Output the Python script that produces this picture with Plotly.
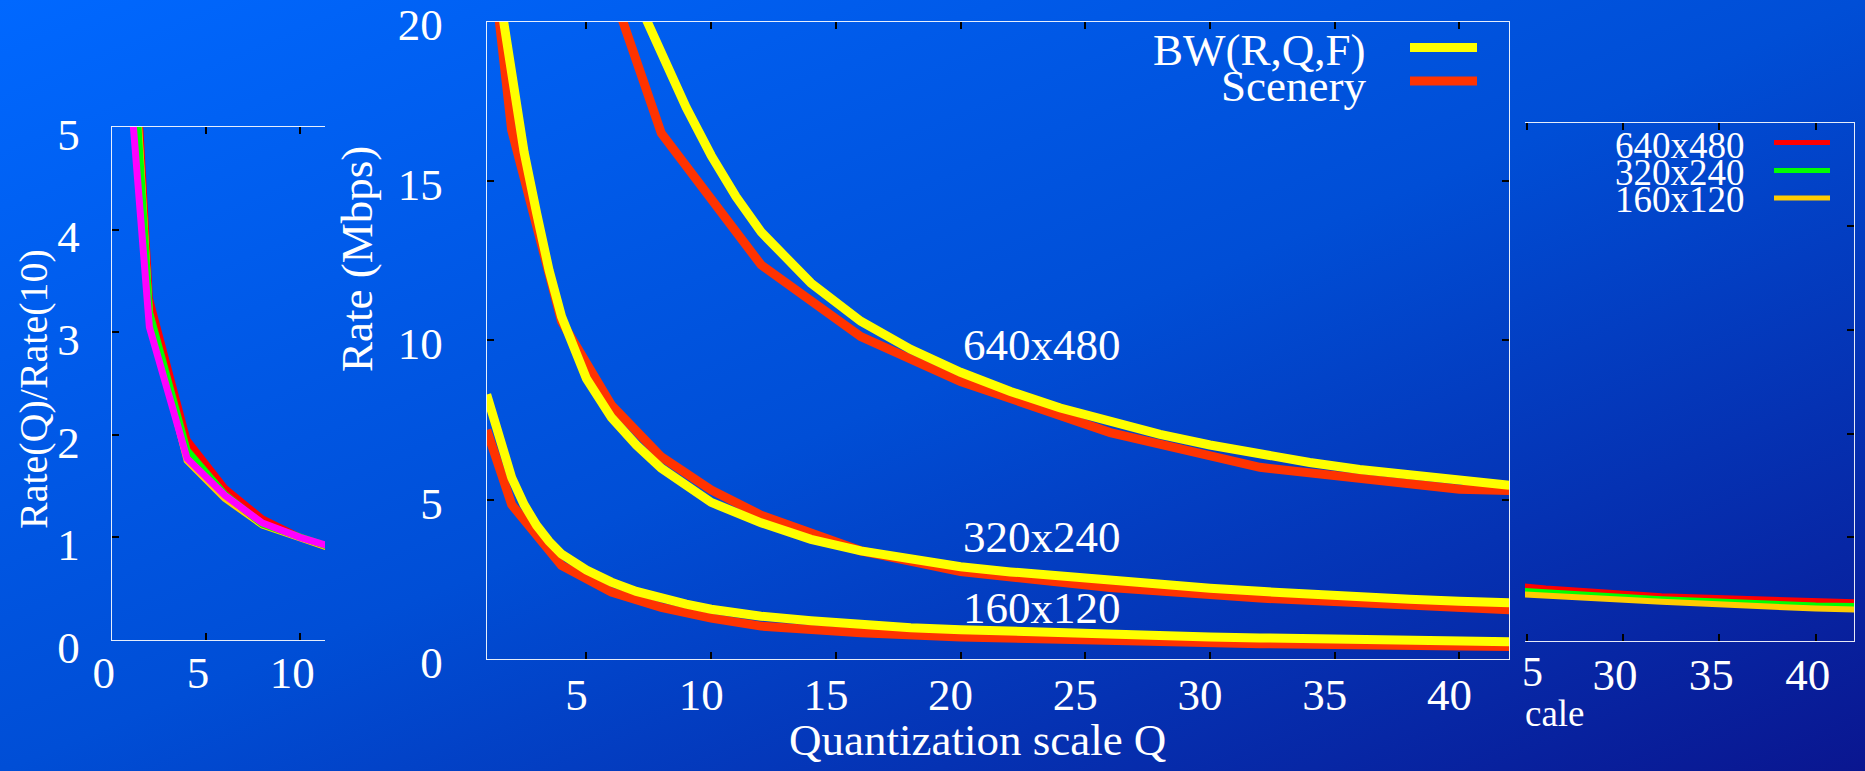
import base64
import plotly.graph_objects as go

W, H = 1865, 771
FONT = "Liberation Serif, Times New Roman, serif"

# ---------------- data ----------------
# main panel: model BW(R,Q,F) (smooth, yellow)
q_bw_640 = [7, 7.5, 8, 9, 10, 11, 12, 14, 16, 18, 20, 22, 24, 26, 28, 30, 32, 34, 36, 38, 40, 42]
bw_640 = [20.75, 19.9, 19.0, 17.3, 15.8, 14.5, 13.4, 11.8, 10.6, 9.72, 9.0, 8.4, 7.88, 7.45,
          7.05, 6.72, 6.42, 6.17, 5.95, 5.77, 5.6, 5.46]
q_bw_320 = [1.5, 2, 2.5, 3, 3.5, 4, 5, 6, 7, 8, 9, 10, 12, 14, 16, 18, 20, 22, 24, 26, 28, 30,
            32, 34, 36, 38, 40, 42]
bw_320 = [20.9, 18.3, 15.9, 14.0, 12.2, 10.75, 8.8, 7.58, 6.72, 5.99, 5.42, 4.92, 4.28, 3.76,
          3.40, 3.12, 2.9, 2.74, 2.6, 2.47, 2.34, 2.23, 2.13, 2.03, 1.95, 1.88, 1.82, 1.77]
q_bw_160 = [1, 1.5, 2, 2.5, 3, 3.5, 4, 5, 6, 7, 8, 9, 10, 12, 14, 16, 18, 20, 22, 24, 26, 28,
            30, 32, 34, 36, 38, 40, 42]
bw_160 = [8.3, 6.9, 5.7, 4.85, 4.2, 3.7, 3.3, 2.8, 2.42, 2.13, 1.91, 1.73, 1.57, 1.35, 1.21,
          1.08, 0.99, 0.93, 0.87, 0.82, 0.77, 0.73, 0.70, 0.67, 0.64, 0.61, 0.59, 0.57, 0.55]

# main panel: measured Scenery (orange-red)
q_sc_640 = [4, 6, 8, 10, 12, 16, 20, 26, 32, 40, 42]
sc_640 = [28.0, 21.05, 16.5, 14.43, 12.37, 10.12, 8.71, 7.11, 6.02, 5.33, 5.29]
q_sc = [1, 2, 4, 6, 8, 10, 12, 16, 20, 26, 32, 40, 42]
sc_320 = [23.5, 16.6, 10.6, 7.97, 6.35, 5.31, 4.52, 3.40, 2.75, 2.25, 1.92, 1.60, 1.55]
sc_160 = [7.19, 4.85, 2.94, 2.11, 1.63, 1.29, 1.04, 0.83, 0.70, 0.58, 0.49, 0.42, 0.40]

# left panel: Rate(Q)/Rate(10)
q_left = [1, 2, 4, 6, 8, 10, 12]
left_red = [6.6, 3.33, 1.95, 1.48, 1.18, 1.0, 0.87]
left_gold = [6.4, 3.18, 1.75, 1.38, 1.12, 1.0, 0.87]
left_green = [6.2, 3.2, 1.85, 1.42, 1.13, 1.0, 0.88]
left_magenta = [5.35, 3.05, 1.77, 1.41, 1.14, 1.0, 0.89]

# right panel: normalised rates
q_right = [24, 26, 32, 40, 42]
right_640 = [0.54, 0.505, 0.43, 0.375, 0.37]
right_320 = [0.49, 0.465, 0.40, 0.34, 0.335]
right_160 = [0.455, 0.435, 0.375, 0.31, 0.30]

main_xticks = [5, 10, 15, 20, 25, 30, 35, 40]
main_yticks = [0, 5, 10, 15, 20]
res_labels = ["640x480", "320x240", "160x120"]

# ---------------- helpers ----------------
def px(x):
    return x / W

def py(y):
    return 1 - y / H

YELLOW = "#ffff00"
SCEN = "#ff3300"
RED = "#ff0000"
GREEN = "#00ff00"
GOLD = "#ffcc00"
MAGENTA = "#ff00ff"

fig = go.Figure()

# main panel traces (red first, yellow on top)
for q, v in [(q_sc_640, sc_640), (q_sc, sc_320), (q_sc, sc_160)]:
    fig.add_trace(go.Scatter(x=q, y=v, mode="lines", line=dict(color=SCEN, width=9),
                             xaxis="x", yaxis="y", showlegend=False, hoverinfo="skip"))
for q, v in [(q_bw_640, bw_640), (q_bw_320, bw_320), (q_bw_160, bw_160)]:
    fig.add_trace(go.Scatter(x=q, y=v, mode="lines", line=dict(color=YELLOW, width=9),
                             xaxis="x", yaxis="y", showlegend=False, hoverinfo="skip"))

# left panel traces
for v, c in [(left_red, RED), (left_gold, GOLD), (left_green, GREEN), (left_magenta, MAGENTA)]:
    fig.add_trace(go.Scatter(x=q_left, y=v, mode="lines", line=dict(color=c, width=7),
                             xaxis="x2", yaxis="y2", showlegend=False, hoverinfo="skip"))

# right panel traces
for v, c in [(right_640, RED), (right_320, GREEN), (right_160, GOLD)]:
    fig.add_trace(go.Scatter(x=q_right, y=v, mode="lines", line=dict(color=c, width=6),
                             xaxis="x3", yaxis="y3", showlegend=False, hoverinfo="skip"))

LINEC = "rgba(255,255,255,0.9)"
common = dict(showgrid=False, zeroline=False, showline=True, linecolor=LINEC, linewidth=1,
              ticks="inside", ticklen=7, tickwidth=1.5, tickcolor="#000000",
              automargin=False, ticklabeloverflow="allow")
TICKFONT = dict(family=FONT, size=45, color="white")

# ---------------- background gradient ----------------
svg = (
    f"<svg xmlns='http://www.w3.org/2000/svg' width='{W}' height='{H}' viewBox='0 0 {W} {H}' "
    "preserveAspectRatio='none'><defs><linearGradient id='g' x1='0' y1='0' x2='1' y2='1'>"
    "<stop offset='0' stop-color='#0068ff'/>"
    "<stop offset='0.5' stop-color='#004ed6'/>"
    "<stop offset='1' stop-color='#0a1690'/>"
    f"</linearGradient></defs><rect width='{W}' height='{H}' fill='url(#g)'/></svg>"
)
src = "data:image/svg+xml;base64," + base64.b64encode(svg.encode()).decode()

annotations = []

def ann(text, x, y, size, xanchor="center", angle=0):
    annotations.append(dict(text=text, x=px(x), y=py(y), xref="paper", yref="paper",
                            showarrow=False, xanchor=xanchor, yanchor="middle",
                            textangle=angle, font=dict(family=FONT, size=size, color="white")))

ann("Rate (Mbps)", 357, 259, 45, angle=-90)
ann("Quantization scale Q", 977, 740, 45)
ann("Rate(Q)/Rate(10)", 33, 389, 40, angle=-90)
ann(res_labels[0], 961, 345, 45, xanchor="left")
ann(res_labels[1], 961, 537, 45, xanchor="left")
ann(res_labels[2], 961, 608, 45, xanchor="left")
ann("BW(R,Q,F)", 1368, 50, 45, xanchor="right")
ann("Scenery", 1368, 86, 45, xanchor="right")
ann(res_labels[0], 1747, 145, 37, xanchor="right")
ann(res_labels[1], 1747, 173, 37, xanchor="right")
ann(res_labels[2], 1747, 200, 37, xanchor="right")
ann("5", 1532, 672, 42)
ann("cale", 1523, 713, 37, xanchor="left")

shapes = []
def seg(x0, x1, y, color, width):
    shapes.append(dict(type="line", xref="paper", yref="paper", x0=px(x0), x1=px(x1),
                       y0=py(y), y1=py(y), line=dict(color=color, width=width)))

seg(1410, 1477, 47.5, YELLOW, 9)
seg(1410, 1477, 81, SCEN, 9)
seg(1774, 1830, 142.5, RED, 5)
seg(1774, 1830, 170.5, GREEN, 5)
seg(1774, 1830, 198, GOLD, 5)

fig.update_layout(
    template="none",
    width=W, height=H,
    margin=dict(l=0, r=0, t=0, b=0, pad=0, autoexpand=False),
    paper_bgcolor="#0050d8",
    plot_bgcolor="rgba(0,0,0,0)",
    images=[dict(source=src, xref="paper", yref="paper", x=0, y=1, sizex=1, sizey=1,
                 xanchor="left", yanchor="top", sizing="stretch", layer="below")],
    annotations=annotations,
    shapes=shapes,
    xaxis=dict(domain=[px(486.7), px(1509.3)], range=[1, 42], tickvals=main_xticks,
               mirror="ticks", anchor="y", tickfont=TICKFONT,
               ticklabelshift=-10, ticklabelstandoff=-4, **common),
    yaxis=dict(domain=[py(659.3), py(21.5)], range=[-0.0005, 20.0005], tickvals=main_yticks,
               mirror="ticks", anchor="x", tickfont=TICKFONT,
               ticklabelshift=3, ticklabelstandoff=34, **common),
    xaxis2=dict(domain=[px(111.7), px(325)], range=[0, 11.32], tickvals=[0, 5, 10],
                mirror="ticks", anchor="y2", tickfont=TICKFONT,
                ticklabelshift=-8, ticklabelstandoff=-7, **common),
    yaxis2=dict(domain=[py(640), py(127)], range=[-0.0002, 5.0002], tickvals=[0, 1, 2, 3, 4, 5],
                anchor="x2", tickfont=TICKFONT,
                ticklabelshift=7, ticklabelstandoff=22, **common),
    xaxis3=dict(domain=[px(1525), px(1854.3)], range=[24.92, 42], tickvals=[25, 30, 35, 40],
                ticktext=["", "30", "35", "40"], mirror="ticks", anchor="y3", tickfont=TICKFONT,
                ticklabelshift=-8, ticklabelstandoff=-6, **common),
    yaxis3=dict(domain=[py(640.7), py(122.7)], range=[0, 5], tickvals=[0, 1, 2, 3, 4, 5],
                side="right", anchor="x3", showticklabels=False, **common),
)

fig.write_html("out.html")
